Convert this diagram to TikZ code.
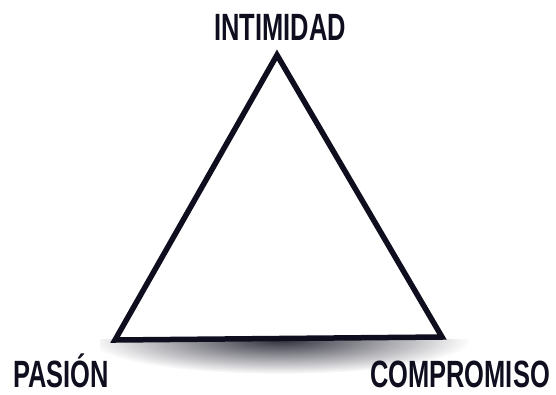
\documentclass[tikz,border=0pt]{standalone}
\usepackage{fontspec}
\setmainfont{Liberation Sans}
\usetikzlibrary{fadings}
\definecolor{ink}{HTML}{0E0E1E}
\tikzfading[name=softglow, inner color=transparent!0, outer color=transparent!100]
\begin{document}
\begin{tikzpicture}[x=1pt,y=-1pt,
  lbl/.style={text=ink,font=\fontsize{38}{38}\selectfont\bfseries,inner sep=0pt,anchor=base,xscale=0.67,transform shape}]
\useasboundingbox (0,0) rectangle (556,394);
\coordinate (top) at (277,55);
\coordinate (bl) at (115,340);
\coordinate (br) at (442,337);
% shadow
\begin{scope}
\clip (100,339) rectangle (470,385);
\fill[ink,path fading=softglow,opacity=0.85] (280,340) ellipse [x radius=190, y radius=34];
\end{scope}
\draw[ink,line width=5.5pt,line join=miter,fill=white] (top) -- (bl) -- (br) -- cycle;
\node[lbl] (int) at (280,40) {INTIMIDAD};
\node[lbl] (pas) at (61,387) {PASIÓN};
\node[lbl] (com) at (460,387) {COMPROMISO};
\end{tikzpicture}
\end{document}
